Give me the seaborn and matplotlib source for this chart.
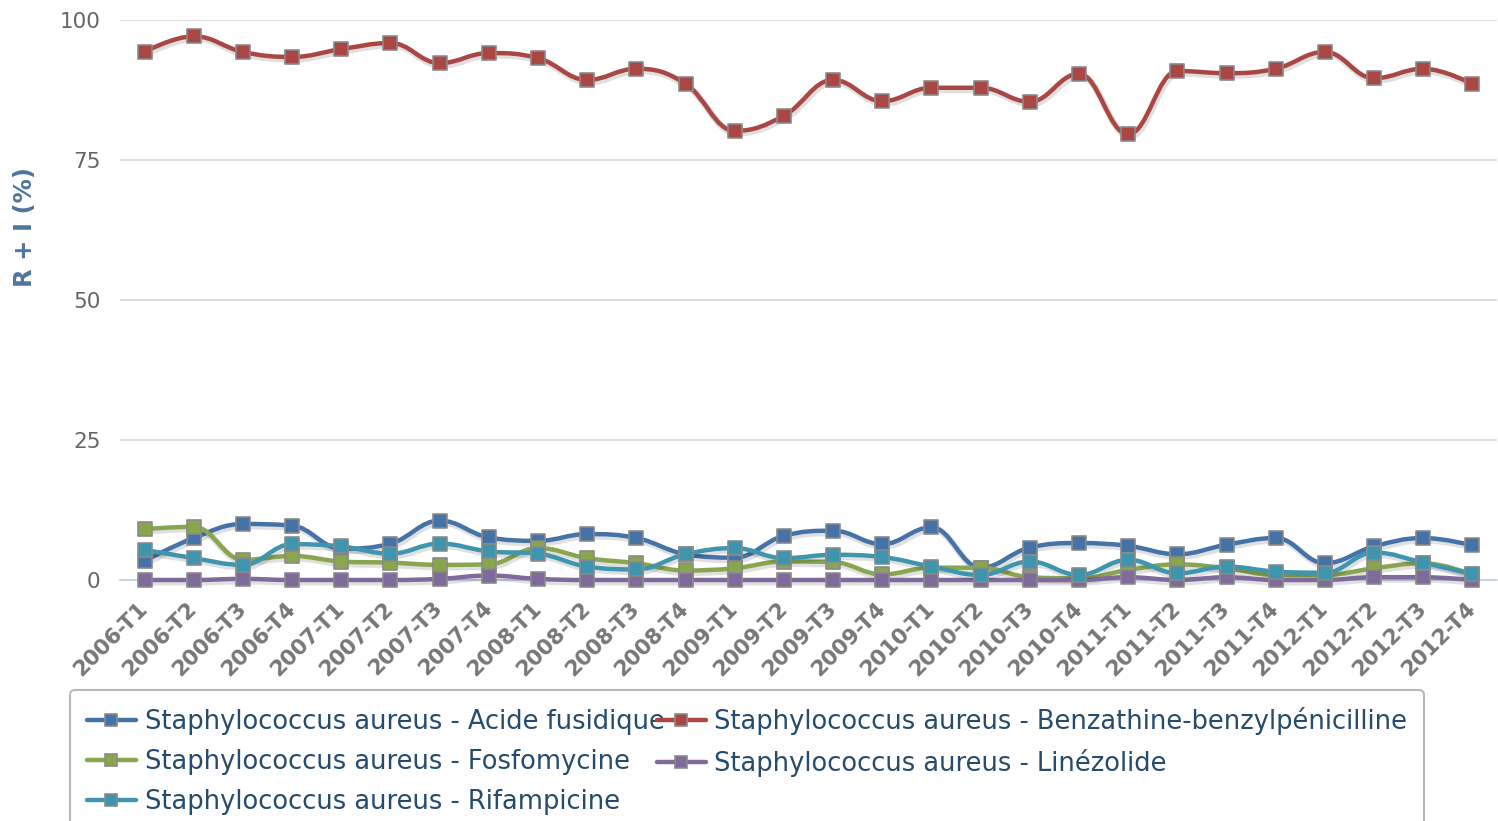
import numpy as np
import pandas as pd
import matplotlib
matplotlib.use("Agg")
import matplotlib.pyplot as plt
import matplotlib.patheffects as pe
from matplotlib.path import Path
from matplotlib.patches import PathPatch
from matplotlib.lines import Line2D
import seaborn as sns

# Données
periodes = [f"{a}-T{t}" for a in range(2006, 2013) for t in range(1, 5)]

acide_fusidique = [3.4, 7.5, 10.0, 9.7, 5.6, 6.5, 10.6, 7.6,
                   7.0, 8.2, 7.5, 4.6, 4.0, 7.9, 8.8, 6.4,
                   9.4, 2.2, 5.8, 6.6, 6.1, 4.6, 6.3, 7.5,
                   3.0, 6.0, 7.5, 6.2]
benzathine = [94.3, 97.1, 94.3, 93.4, 94.8, 95.9, 92.3, 94.1,
              93.2, 89.3, 91.3, 88.6, 80.2, 82.9, 89.3, 85.5,
              87.9, 87.9, 85.4, 90.4, 79.6, 90.9, 90.5, 91.3,
              94.3, 89.6, 91.3, 88.6]
fosfomycine = [9.1, 9.5, 3.6, 4.3, 3.3, 3.1, 2.7, 2.8,
               5.7, 3.9, 3.0, 1.7, 2.1, 3.3, 3.2, 1.0,
               2.2, 2.2, 0.5, 0.3, 1.8, 2.8, 2.1, 0.9,
               0.9, 2.1, 3.0, 1.0]
linezolide = [0.0, 0.0, 0.2, 0.0, 0.0, 0.0, 0.2, 0.8,
              0.2, 0.0, 0.0, 0.0, 0.0, 0.0, 0.0, 0.0,
              0.0, 0.0, 0.0, 0.0, 0.5, 0.0, 0.5, 0.0,
              0.0, 0.5, 0.5, 0.0]
rifampicine = [5.4, 3.9, 2.7, 6.4, 6.0, 4.7, 6.5, 5.1,
               4.7, 2.4, 1.9, 4.6, 5.7, 3.9, 4.5, 4.1,
               2.4, 0.9, 3.3, 0.9, 3.6, 1.2, 2.4, 1.5,
               1.3, 4.9, 3.1, 1.0]

noms = ["Staphylococcus aureus - Acide fusidique",
        "Staphylococcus aureus - Benzathine-benzylpénicilline",
        "Staphylococcus aureus - Fosfomycine",
        "Staphylococcus aureus - Linézolide",
        "Staphylococcus aureus - Rifampicine"]
couleurs = ["#4572A7", "#AA4643", "#89A54E", "#80699B", "#3D96AE"]
series = [acide_fusidique, benzathine, fosfomycine, linezolide, rifampicine]

df = pd.concat([
    pd.DataFrame({"idx": np.arange(len(periodes)), "periode": periodes,
                  "valeur": vals, "serie": nom})
    for nom, vals in zip(noms, series)
], ignore_index=True)


def spline_path(x, y, smoothing=1.5):
    # courbe de Bézier à la manière des "spline" Highcharts
    denom = smoothing + 1
    n = len(x)
    verts = [(x[0], y[0])]
    codes = [Path.MOVETO]
    right = [(x[0], y[0])] * n
    for i in range(1, n):
        px, py = x[i], y[i]
        lx, ly = px, py
        if i < n - 1:
            ax_, ay_ = x[i - 1], y[i - 1]
            nx, ny = x[i + 1], y[i + 1]
            lx = (smoothing * px + ax_) / denom
            ly = (smoothing * py + ay_) / denom
            rx = (smoothing * px + nx) / denom
            ry = (smoothing * py + ny) / denom
            corr = 0
            if rx != lx:
                corr = (ry - ly) * (rx - px) / (rx - lx) + py - ry
            ly += corr
            ry += corr
            if ly > ay_ and ly > py:
                ly = max(ay_, py)
                ry = 2 * py - ly
            elif ly < ay_ and ly < py:
                ly = min(ay_, py)
                ry = 2 * py - ly
            if ry > ny and ry > py:
                ry = max(ny, py)
                ly = 2 * py - ry
            elif ry < ny and ry < py:
                ry = min(ny, py)
                ly = 2 * py - ry
            right[i] = (rx, ry)
        verts += [right[i - 1], (lx, ly), (px, py)]
        codes += [Path.CURVE4] * 3
    return Path(verts, codes)


sns.set_style("white")
plt.rcParams['font.family'] = ['DejaVu Sans']

fig = plt.figure(figsize=(14.98, 8.21), dpi=100)
ax = fig.add_axes([120 / 1498, 1 - 580 / 821, 1377 / 1498, 560 / 821])

for k, (nom, col) in enumerate(zip(noms, couleurs)):
    sub = df[df["serie"] == nom]
    patch = PathPatch(spline_path(sub["idx"].to_numpy(float), sub["valeur"].to_numpy(float)),
                      facecolor="none", edgecolor=col, lw=3.2, zorder=3 + 2 * k,
                      clip_on=False, capstyle="round", joinstyle="round")
    patch.set_path_effects([pe.SimpleLineShadow(offset=(1, -1.5), alpha=0.12, linewidth=5),
                            pe.Normal()])
    ax.add_patch(patch)
    sns.scatterplot(data=sub, x="idx", y="valeur", ax=ax, color=col, marker="s",
                    s=110, edgecolor="#8a8a8a", linewidth=1.2, zorder=4 + 2 * k,
                    clip_on=False, legend=False)

ax.set_xlim(-0.5, len(periodes) - 0.5)
ax.set_ylim(0, 100)
ax.set_yticks([0, 25, 50, 75, 100])
ax.yaxis.grid(True, color="#D8D8D8", lw=1.2)
ax.xaxis.grid(False)
for s in ["top", "right", "left"]:
    ax.spines[s].set_visible(False)
ax.spines["bottom"].set_color("#C0D0E0")
ax.spines["bottom"].set_linewidth(1.2)

ax.set_xticks(np.arange(len(periodes)))
ax.set_xticklabels(periodes, rotation=45, ha="right", va="center", rotation_mode="anchor",
                   fontsize=15.5, fontweight="bold", color="#777777")
ax.set_xticks(np.arange(len(periodes) - 1) + 0.5, minor=True)
ax.tick_params(axis="x", which="major", length=0, pad=18)
ax.tick_params(axis="x", which="minor", length=10, width=1.2, color="#C0D0E0")
ax.tick_params(axis="y", length=0, pad=14, labelsize=15.5, labelcolor="#666666")
ax.set_xlabel("")
ax.set_ylabel("R + I (%)", fontsize=17.5, fontweight="bold", color="#4D759E")
ax.yaxis.set_label_coords((37 - 120) / 1377, (580 - 227) / 560)

ordre = [0, 2, 4, 1, 3]
poignees = [Line2D([], [], color=couleurs[i], lw=3.2, marker="s", markersize=9,
                   markeredgecolor="#8a8a8a", markeredgewidth=1.2) for i in ordre]
leg = fig.legend(poignees, [noms[i] for i in ordre], ncol=2, loc="upper left",
                 bbox_to_anchor=(70 / 1498, 1 - 690 / 821), fontsize=18.5,
                 frameon=True, fancybox=True, handlelength=1.9, handletextpad=0.35,
                 columnspacing=-0.3, labelspacing=0.55, borderpad=0.65,
                 borderaxespad=0)
for t in leg.get_texts():
    t.set_color("#274B6D")
leg.get_frame().set_edgecolor("#A8A8A8")
leg.get_frame().set_linewidth(1.5)

fig.savefig("out.png", dpi=100)
